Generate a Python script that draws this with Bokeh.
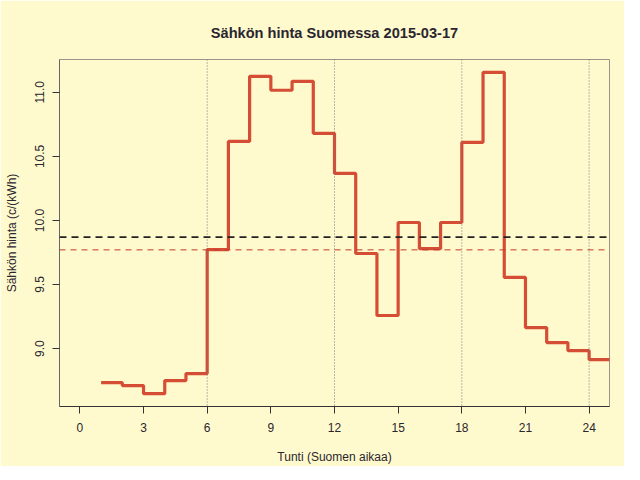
from bokeh.plotting import figure
from bokeh.models import Span, FixedTicker, Range1d, CustomJSTickFormatter
from bokeh.embed import file_html
from bokeh.resources import INLINE

# ---- data ----
hours = list(range(1, 25))
prices = [8.734, 8.711, 8.648, 8.750, 8.805, 9.773, 10.617, 11.125, 11.016, 11.086,
          10.680, 10.367, 9.742, 9.258, 9.984, 9.780, 9.984, 10.610, 11.156, 9.555,
          9.164, 9.047, 8.984, 8.914]
ref_level = 9.87          # black dashed line
mean_level = sum(prices) / len(prices)   # red dashed line
guide_hours = [6, 12, 18, 24]
x_ticks = [0, 3, 6, 9, 12, 15, 18, 21, 24]
y_ticks = [9.0, 9.5, 10.0, 10.5, 11.0]

title = "Sähkön hinta Suomessa 2015-03-17"
xlabel = "Tunti (Suomen aikaa)"
ylabel = "Sähkön hinta (c/(kWh)"

BG = "#FFFACD"
TXT = "#2a2630"
LINE = "#d64d35"
FONT = "Liberation Sans"

# step data: extend last hour to its end
xs = hours + [hours[-1] + 1]
ys = prices + [prices[-1]]

p = figure(width=624, height=464, output_backend="svg", toolbar_location=None,
           x_range=Range1d(-0.96, 24.96), y_range=Range1d(8.548, 11.256),
           frame_width=550, frame_height=347,
           min_border_left=59, min_border_top=59, min_border_right=15, min_border_bottom=58)

p.background_fill_color = BG
p.border_fill_color = BG
p.outline_line_color = "#9a9588"
p.outline_line_width = 1
p.xgrid.visible = False
p.ygrid.visible = False

p.title.text = title
p.title.text_font = FONT
p.title.text_font_size = "14.6px"
p.title.text_font_style = "bold"
p.title.text_color = TXT
p.title.align = "center"
p.title.standoff = 38

for ax in (p.xaxis[0], p.yaxis[0]):
    ax.major_tick_out = 7
    ax.major_tick_in = 0
    ax.minor_tick_out = 0
    ax.minor_tick_in = 0
    ax.major_label_text_font = FONT
    ax.major_label_text_font_size = "12px"
    ax.major_label_text_color = TXT
    ax.axis_label_text_font = FONT
    ax.axis_label_text_font_size = "12px"
    ax.axis_label_text_font_style = "normal"
    ax.axis_label_text_color = TXT
    ax.major_tick_line_color = "#333333"

p.xaxis.ticker = FixedTicker(ticks=x_ticks)
p.xaxis.axis_label = xlabel
p.xaxis.major_label_standoff = 9
p.xaxis.axis_label_standoff = 15
p.xaxis.axis_line_color = "#333333"

p.yaxis.ticker = FixedTicker(ticks=y_ticks)
p.yaxis.formatter = CustomJSTickFormatter(code="return tick.toFixed(1);")
p.yaxis.axis_label = ylabel
p.yaxis.major_label_orientation = "vertical"
p.yaxis.major_label_standoff = 8
p.yaxis.axis_label_standoff = 14
p.yaxis.axis_line_color = "#666666"

for h in guide_hours:
    p.add_layout(Span(location=h, dimension="height", line_color="#777777",
                      line_dash="1 2", line_width=1))

p.add_layout(Span(location=ref_level, dimension="width", line_color="#222222",
                  line_dash="7 5", line_width=1.8))
p.add_layout(Span(location=mean_level, dimension="width", line_color="#c0392b",
                  line_dash="6 5", line_width=1))

p.step(xs, ys, mode="after", line_color=LINE, line_width=3.2)

open("out.html", "w").write(file_html(p, INLINE))
